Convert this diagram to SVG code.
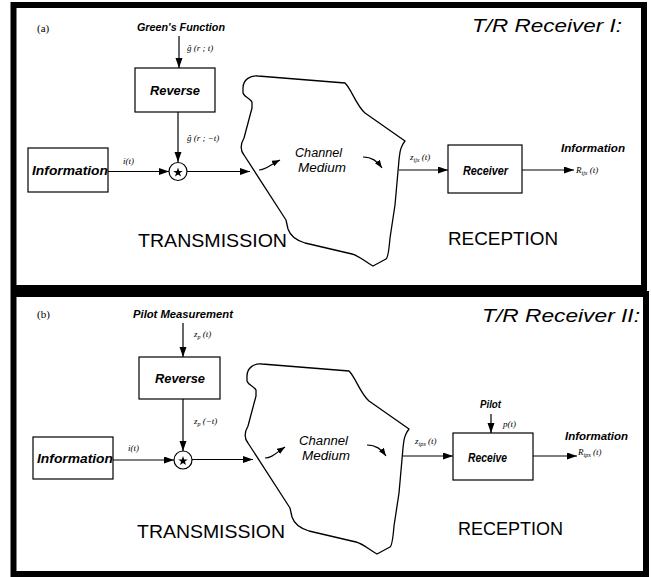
<svg xmlns="http://www.w3.org/2000/svg" width="651" height="577" viewBox="0 0 651 577">
  <style>
    .frame { fill: none; stroke: #000; stroke-width: 6; }
    .box { fill: #fff; stroke: #000; stroke-width: 1.2; }
    .wire { fill: none; stroke: #000; stroke-width: 1.2; }
    .blob { fill: #fff; stroke: #000; stroke-width: 1.3; stroke-linejoin: round; }
    .blk { font-family: "Liberation Sans", Arial, sans-serif; font-style: italic; font-weight: bold; font-size: 12px; fill: #000; }
    .lbl { font-family: "Liberation Sans", Arial, sans-serif; font-style: italic; font-weight: bold; font-size: 10px; fill: #000; }
    .chan { font-family: "Liberation Sans", Arial, sans-serif; font-style: italic; font-size: 12px; fill: #000; }
    .math { font-family: "Liberation Serif", "Times New Roman", serif; font-style: italic; font-size: 9px; fill: #000; }
    .tag { font-family: "Liberation Serif", "Times New Roman", serif; font-size: 11px; fill: #000; }
    .title { font-family: "Liberation Sans", Arial, sans-serif; font-style: italic; font-size: 19px; fill: #000; }
    .stage { font-family: "Liberation Sans", Arial, sans-serif; font-size: 18px; fill: #000; }
  </style>
  <defs>
    <marker id="arrow" markerUnits="userSpaceOnUse" markerWidth="11" markerHeight="8" refX="10" refY="3.5" orient="auto">
      <path d="M0,0 L10,3.5 L0,7 Z" fill="#000"/>
    </marker>
    <marker id="arrowSmall" markerUnits="userSpaceOnUse" markerWidth="9" markerHeight="7" refX="8" refY="3" orient="auto">
      <path d="M0,0 L8,3 L0,6 Z" fill="#000"/>
    </marker>
    <path id="channelShape" d="M243,88 C243,80 250,75 258,76 L345,83 C352,90 356,105 365,113 L405,141 C401,146 400,150 399,160 L395,205 L390,238 C389,250 388,258 386,259 L373,266 C365,262 360,256 352,254 L305,243 C295,240 290,235 288,229 L286,220 L244,155 C240,150 240,145 244,138 L252,108 L252,102 C250,98 244,97 243,93 Z"/>
    <polygon id="star" points="0,-5 1.2,-1.6 4.8,-1.6 1.9,0.6 3,4.1 0,2 -3,4.1 -1.9,0.6 -4.8,-1.6 -1.2,-1.6" fill="#000"/>
  </defs>

  <!-- panel frames -->
  <g id="frames">
    <rect class="frame" x="13.5" y="5" width="630.5" height="283"/>
    <rect class="frame" x="13.5" y="294" width="632.5" height="280"/>
  </g>

  <!-- ================= (a) T/R Receiver I ================= -->
  <text class="tag" x="37" y="32">(a)</text>
  <text class="title" x="472" y="32" textLength="150" lengthAdjust="spacingAndGlyphs">T/R Receiver I:</text>

  <g id="a-channel">
    <use href="#channelShape" class="blob"/>
    <text class="chan" x="295" y="157" textLength="47" lengthAdjust="spacingAndGlyphs">Channel</text>
    <text class="chan" x="298" y="172" textLength="48" lengthAdjust="spacingAndGlyphs">Medium</text>
  </g>

  <g id="a-reverse">
    <rect class="box" x="135" y="68" width="80" height="44"/>
    <text class="blk" x="150" y="95" textLength="50" lengthAdjust="spacingAndGlyphs">Reverse</text>
  </g>

  <g id="a-information">
    <rect class="box" x="28" y="148" width="80" height="44"/>
    <text class="blk" x="32" y="175" textLength="76" lengthAdjust="spacingAndGlyphs">Information</text>
  </g>

  <g id="a-convolver">
    <circle cx="178" cy="171.5" r="9" fill="#fff" stroke="#000" stroke-width="1.2"/>
    <use href="#star" x="178" y="172.5"/>
  </g>

  <g id="a-receiver">
    <rect class="box" x="448" y="145" width="74" height="48"/>
    <text class="blk" x="463" y="175" textLength="45" lengthAdjust="spacingAndGlyphs">Receiver</text>
  </g>

  <g id="a-connectors">
    <line class="wire" x1="179" y1="36" x2="179" y2="68" marker-end="url(#arrow)"/>
    <line class="wire" x1="178" y1="112" x2="178" y2="162" marker-end="url(#arrow)"/>
    <line class="wire" x1="108" y1="171.5" x2="169" y2="171.5" marker-end="url(#arrow)"/>
    <line class="wire" x1="187" y1="171.5" x2="250" y2="171.5" marker-end="url(#arrow)"/>
    <path class="wire" d="M259,170 C266,170 270,165 280,160" marker-end="url(#arrowSmall)"/>
    <path class="wire" d="M363,157 C372,157 377,161 382,168" marker-end="url(#arrowSmall)"/>
    <line class="wire" x1="399" y1="170" x2="448" y2="170" marker-end="url(#arrow)"/>
    <line class="wire" x1="522" y1="170" x2="574" y2="170" marker-end="url(#arrow)"/>
  </g>

  <g id="a-labels">
    <text class="lbl" x="137" y="31" textLength="88" lengthAdjust="spacingAndGlyphs">Green's Function</text>
    <text class="math" x="187" y="51">ĝ (r ; t)</text>
    <text class="math" x="187" y="141">ĝ (r ; −t)</text>
    <text class="math" x="123" y="164">i(t)</text>
    <text class="math" x="410" y="160">z<tspan font-size="6" dy="2">ijx</tspan><tspan dy="-2"> (t)</tspan></text>
    <text class="lbl" x="561" y="152" textLength="64" lengthAdjust="spacingAndGlyphs">Information</text>
    <text class="math" x="576" y="173">R<tspan font-size="6" dy="2">ijx</tspan><tspan dy="-2"> (t)</tspan></text>
    <text class="stage" x="138" y="247" textLength="149" lengthAdjust="spacingAndGlyphs">TRANSMISSION</text>
    <text class="stage" x="448" y="245" textLength="110" lengthAdjust="spacingAndGlyphs">RECEPTION</text>
  </g>

  <!-- ================= (b) T/R Receiver II ================= -->
  <text class="tag" x="37" y="318">(b)</text>
  <text class="title" x="482" y="322" textLength="158" lengthAdjust="spacingAndGlyphs">T/R Receiver II:</text>

  <g id="b-channel">
    <use href="#channelShape" class="blob" transform="translate(4,288)"/>
    <text class="chan" x="299" y="445" textLength="49" lengthAdjust="spacingAndGlyphs">Channel</text>
    <text class="chan" x="302" y="460" textLength="48" lengthAdjust="spacingAndGlyphs">Medium</text>
  </g>

  <g id="b-reverse">
    <rect class="box" x="139" y="357" width="81" height="42"/>
    <text class="blk" x="155" y="383" textLength="50" lengthAdjust="spacingAndGlyphs">Reverse</text>
  </g>

  <g id="b-information">
    <rect class="box" x="33" y="437" width="80" height="42"/>
    <text class="blk" x="37" y="463" textLength="76" lengthAdjust="spacingAndGlyphs">Information</text>
  </g>

  <g id="b-convolver">
    <circle cx="183" cy="460" r="9" fill="#fff" stroke="#000" stroke-width="1.2"/>
    <use href="#star" x="183" y="461"/>
  </g>

  <g id="b-receive">
    <rect class="box" x="453" y="433" width="80" height="47"/>
    <text class="blk" x="468" y="462" textLength="39" lengthAdjust="spacingAndGlyphs">Receive</text>
  </g>

  <g id="b-connectors">
    <line class="wire" x1="183" y1="323" x2="183" y2="357" marker-end="url(#arrow)"/>
    <line class="wire" x1="183" y1="399" x2="183" y2="451" marker-end="url(#arrow)"/>
    <line class="wire" x1="113" y1="460" x2="174" y2="460" marker-end="url(#arrow)"/>
    <line class="wire" x1="192" y1="459.5" x2="253" y2="459.5" marker-end="url(#arrow)"/>
    <path class="wire" d="M265,458 C272,458 276,453 285,447" marker-end="url(#arrowSmall)"/>
    <path class="wire" d="M367,445 C376,445 381,449 386,456" marker-end="url(#arrowSmall)"/>
    <line class="wire" x1="403" y1="456" x2="453" y2="456" marker-end="url(#arrow)"/>
    <line class="wire" x1="533" y1="456" x2="577" y2="456" marker-end="url(#arrow)"/>
    <line class="wire" x1="491" y1="414" x2="491" y2="433" marker-end="url(#arrow)"/>
  </g>

  <g id="b-labels">
    <text class="lbl" x="133" y="318" textLength="100" lengthAdjust="spacingAndGlyphs">Pilot Measurement</text>
    <text class="math" x="194" y="337">z<tspan font-size="6" dy="2">p</tspan><tspan dy="-2"> (t)</tspan></text>
    <text class="math" x="194" y="424">z<tspan font-size="6" dy="2">p</tspan><tspan dy="-2"> (−t)</tspan></text>
    <text class="math" x="128" y="451">i(t)</text>
    <text class="lbl" x="480" y="408" textLength="21" lengthAdjust="spacingAndGlyphs">Pilot</text>
    <text class="math" x="503" y="427" font-size="10">p(t)</text>
    <text class="math" x="415" y="444">z<tspan font-size="6" dy="2">ipx</tspan><tspan dy="-2"> (t)</tspan></text>
    <text class="lbl" x="565" y="440" textLength="63" lengthAdjust="spacingAndGlyphs">Information</text>
    <text class="math" x="578" y="455">R<tspan font-size="6" dy="2">ipx</tspan><tspan dy="-2"> (t)</tspan></text>
    <text class="stage" x="137" y="538" textLength="148" lengthAdjust="spacingAndGlyphs">TRANSMISSION</text>
    <text class="stage" x="458" y="535" textLength="105" lengthAdjust="spacingAndGlyphs">RECEPTION</text>
  </g>
</svg>
